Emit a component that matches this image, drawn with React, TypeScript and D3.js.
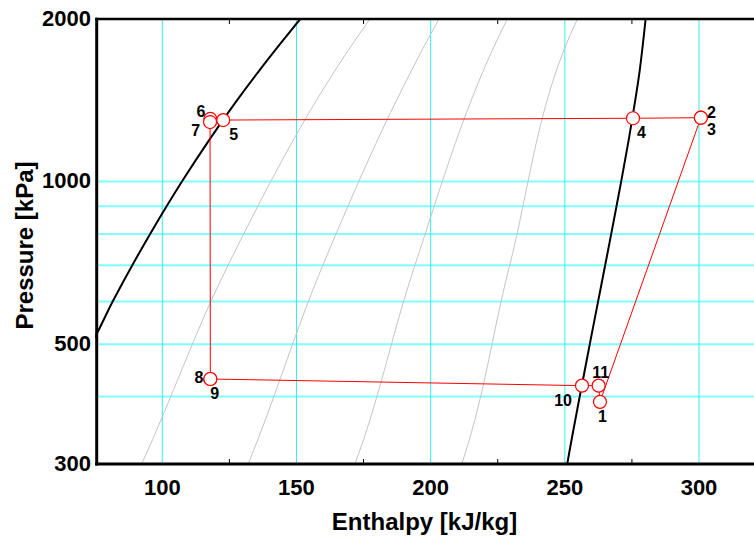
import React from "react";
import * as d3 from "d3";

// ---- data ----
// Saturated liquid line: [pressure kPa, enthalpy kJ/kg]
const satLiquid: [number, number][] = [
  [450, 66.8], [500, 73.33], [600, 81.51], [700, 88.82], [800, 95.47], [900, 101.61],
  [1000, 107.32], [1200, 117.77], [1400, 127.22], [1600, 135.93], [1800, 144.0], [2000, 151.4],
];
// Saturated vapour line
const satVapor: [number, number][] = [
  [290, 250.4], [300, 250.9], [400, 255.55], [500, 259.3], [600, 262.4], [700, 265.03], [800, 267.29],
  [900, 269.26], [1000, 270.99], [1200, 273.87], [1400, 276.1], [1600, 277.86],
  [1800, 279.1], [2000, 280.1], [2100, 280.5],
];
// Grey isentropic lines (p, h)
const isoA: [number, number][] = [[280, 89.5], [300, 92.3], [692, 124.0], [2000, 177.4], [2100, 180.5]];
const isoB: [number, number][] = [[280, 129.5], [300, 132.0], [692, 159.4], [2000, 203.1], [2100, 205.5]];
const isoC: [number, number][] = [[280, 169.5], [300, 171.8], [692, 193.8], [2000, 228.6], [2100, 230.8]];
const isoD: [number, number][] = [[280, 209.5], [300, 211.6], [692, 229.2], [2000, 254.7], [2100, 256.8]];
const isoLines = [isoA, isoB, isoC, isoD];

// Cycle state points
const stateIds = ["1", "2", "3", "4", "5", "6", "7", "8", "9", "10", "11"];
const stateH = [263.1, 300.7, 300.7, 275.4, 122.7, 117.9, 117.8, 117.9, 117.9, 256.4, 262.6];
const stateP = [391, 1313, 1313, 1310, 1300, 1306, 1289, 431, 431, 419, 419];

// Axis ticks
const xMajor = [100, 150, 200, 250, 300];
const xMinor = [125, 175, 225, 275];
const yGrid = [400, 500, 600, 700, 800, 900, 1000];
const yLabels = [300, 500, 1000, 2000];

// label layout offsets [dx, dy, anchor]
const labelOffsets: [number, number, string][] = [
  [-2, 20, "start"], [6, 0, "start"], [6, 17, "start"], [4, 20, "start"], [6, 20, "start"],
  [-5, -2, "end"], [-10, 14, "end"], [-7, 4, "end"], [0, 19.5, "start"], [-10, 20, "end"],
  [-6.5, -7.5, "start"],
];

const W = 754;
const H = 537;
const FONT = "'Liberation Sans', Arial, Helvetica, sans-serif";

export default function App() {
  const x = d3.scaleLinear().domain([75, 325]).range([95.2, 766.1]);
  const y = d3.scaleLog().domain([300, 2000]).range([464, 19]);
  const left = x(75);
  const top = y(2000);
  const bottom = y(300);

  const line = d3
    .line<[number, number]>()
    .x((d) => x(d[1]))
    .y((d) => y(d[0]))
    .curve(d3.curveMonotoneY);

  const cycleOrder = [0, 1, 2, 3, 4, 5, 6, 7, 8, 9, 10, 0];
  const cyclePath = d3
    .line<number>()
    .x((i) => x(stateH[i]))
    .y((i) => y(stateP[i]))(cycleOrder);

  return (
    <div>
      <style>{`body{margin:0}`}</style>
      <svg width={W} height={H} style={{ display: "block" }} fontFamily={FONT}>
        <defs>
          <clipPath id="plot">
            <rect x={left} y={top} width={W - left} height={bottom - top} />
          </clipPath>
        </defs>
        <rect width={W} height={H} fill="#fff" />
        <g clipPath="url(#plot)">
          {/* grid */}
          {yGrid.map((p) => (
            <line key={"hg" + p} x1={left} x2={W} y1={y(p)} y2={y(p)} stroke="#80ffff" strokeWidth={2} />
          ))}
          {xMajor.map((h) => (
            <line key={"vg" + h} x1={x(h)} x2={x(h)} y1={top} y2={bottom} stroke="#30f0f0" strokeWidth={1} />
          ))}
          {/* isentropes */}
          {isoLines.map((l, i) => (
            <path key={"iso" + i} d={line(l) || ""} fill="none" stroke="#c4c4c4" strokeWidth={1} />
          ))}
          {/* saturation dome */}
          <path d={line(satLiquid) || ""} fill="none" stroke="#000" strokeWidth={2} />
          <path d={line(satVapor) || ""} fill="none" stroke="#000" strokeWidth={2} />
          {/* cycle */}
          <path d={cyclePath || ""} fill="none" stroke="#ff0000" strokeWidth={1} />
          {stateIds.map((id, i) => (
            <circle key={"c" + id} cx={x(stateH[i])} cy={y(stateP[i])} r={6.5} fill="#fff" stroke="#ff0000" strokeWidth={1.2} />
          ))}
        </g>
        {/* point labels */}
        {stateIds.map((id, i) => (
          <text
            key={"t" + id}
            x={x(stateH[i]) + labelOffsets[i][0]}
            y={y(stateP[i]) + labelOffsets[i][1]}
            textAnchor={labelOffsets[i][2] as any}
            fontSize={16}
            fontWeight="bold"
            fill="#000"
          >
            {id}
          </text>
        ))}
        {/* minor ticks */}
        {xMinor.map((h) => (
          <g key={"mt" + h}>
            <line x1={x(h)} x2={x(h)} y1={bottom} y2={bottom - 5} stroke="#000" strokeWidth={1} />
            <line x1={x(h)} x2={x(h)} y1={top} y2={top + 5} stroke="#000" strokeWidth={1} />
          </g>
        ))}
        {/* axes frame */}
        <line x1={left + 1.5} x2={left + 1.5} y1={top - 1.2} y2={bottom + 1.5} stroke="#000" strokeWidth={3} />
        <line x1={left} x2={W} y1={bottom} y2={bottom} stroke="#000" strokeWidth={3} />
        <line x1={left} x2={W} y1={top} y2={top} stroke="#000" strokeWidth={2.5} />
        {/* tick labels */}
        {xMajor.map((h) => (
          <text key={"xl" + h} x={x(h)} y={495} textAnchor="middle" fontSize={22} fontWeight="bold">
            {h}
          </text>
        ))}
        {yLabels.map((p) => (
          <text key={"yl" + p} x={91} y={y(p) + 6.5} textAnchor="end" fontSize={22} fontWeight="bold">
            {p}
          </text>
        ))}
        {/* axis titles */}
        <text x={424.5} y={530} textAnchor="middle" fontSize={24} fontWeight="bold">
          Enthalpy [kJ/kg]
        </text>
        <text transform="translate(33,245.5) rotate(-90)" textAnchor="middle" fontSize={24} fontWeight="bold">
          Pressure [kPa]
        </text>
      </svg>
    </div>
  );
}
